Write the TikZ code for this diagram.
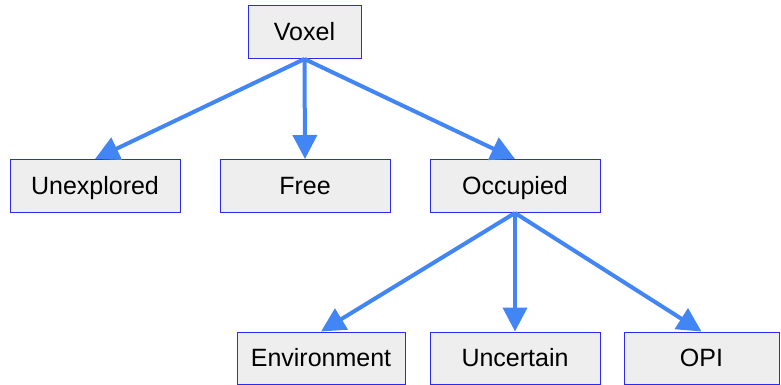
\documentclass[tikz,border=0pt]{standalone}
\usepackage{fontspec}
\setmainfont{Liberation Sans}
\usetikzlibrary{arrows.meta}
\definecolor{arrowblue}{HTML}{4285F4}
\definecolor{boxfill}{HTML}{EEEEEE}
\definecolor{boxline}{HTML}{2A2AF0}
\begin{document}
\begin{tikzpicture}[x=1pt,y=-1pt,
  box/.style={draw=boxline,line width=1pt,fill=boxfill,inner sep=0pt,
    text height=17.5pt,text depth=0pt,font=\fontsize{25}{28}\selectfont},
  conn/.style={draw=arrowblue,line width=4pt,-{Triangle[length=24pt,width=24pt]}}]
\useasboundingbox (0,0) rectangle (781,385);
\node[box,minimum width=113pt,minimum height=53pt] (voxel) at (304.5,32) {Voxel};
\node[box,minimum width=170pt,minimum height=53pt] (unexp) at (95,186) {Unexplored};
\node[box,minimum width=170pt,minimum height=53pt] (free) at (305,186) {Free};
\node[box,minimum width=170pt,minimum height=53pt] (occ) at (515,186) {Occupied};
\node[box,minimum width=168pt,minimum height=52pt] (env) at (321,358) {Environment};
\node[box,minimum width=170pt,minimum height=52pt] (unc) at (515,358) {Uncertain};
\node[box,minimum width=155pt,minimum height=52pt] (opi) at (701.5,358) {OPI};
\draw[conn] (voxel.south) -- (unexp.north);
\draw[conn] (voxel.south) -- (free.north);
\draw[conn] (voxel.south) -- (occ.north);
\draw[conn] (occ.south) -- (env.north);
\draw[conn] (occ.south) -- (unc.north);
\draw[conn] (occ.south) -- (opi.north);
\end{tikzpicture}
\end{document}
